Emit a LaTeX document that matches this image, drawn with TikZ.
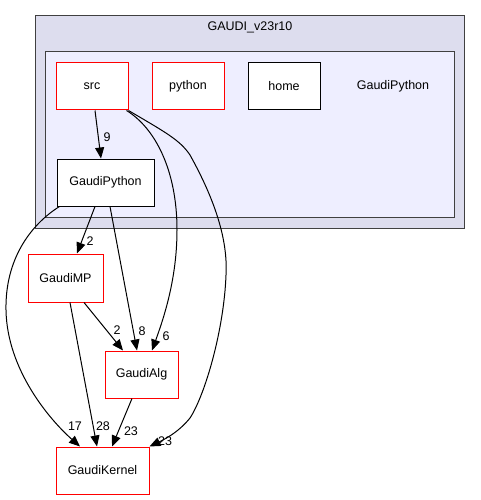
\documentclass[tikz,border=0pt]{standalone}
\usepackage{fontspec}
\setmainfont{Liberation Sans}
\usetikzlibrary{arrows.meta}
\definecolor{outerfill}{HTML}{DDDDEE}
\definecolor{innerfill}{HTML}{EEEEFF}
\definecolor{clborder}{HTML}{404040}
\tikzset{
  box/.style={draw=black, fill=white, line width=1pt, minimum height=47pt, inner sep=0pt, font=\fontsize{12.5}{14}\selectfont},
  redbox/.style={box, draw=red},
  cluster/.style={draw=clborder, line width=1pt},
  lbl/.style={font=\fontsize{12.5}{14}\selectfont, inner sep=0pt},
  edge/.style={draw=black, line width=1pt, -{Triangle[length=11pt,width=9pt]}},
}
\begin{document}
\begin{tikzpicture}[x=1pt,y=-1pt]
\useasboundingbox (0,0) rectangle (480,500);
% clusters
\draw[cluster, fill=outerfill] (35,16) rectangle (464,228);
\node[lbl] (outerlbl) at (250,27) {GAUDI\_v23r10};
\draw[cluster, fill=innerfill] (45,52) rectangle (454,217);
\node[lbl] (innerlbl) at (393,86) {GaudiPython};
% nodes
\node[redbox, minimum width=72pt] (src) at (92,86.5) {src};
\node[redbox, minimum width=72pt] (python) at (188,86.5) {python};
\node[box, minimum width=72pt] (home) at (284,86.5) {home};
\node[box, minimum width=97pt] (gp) at (105.5,182.5) {GaudiPython};
\node[redbox, minimum width=75pt, minimum height=48pt] (mp) at (65.5,278) {GaudiMP};
\node[redbox, minimum width=73pt] (alg) at (141.5,374.5) {GaudiAlg};
\node[redbox, minimum width=93pt] (kernel) at (102.5,470.5) {GaudiKernel};
% edges
\draw[edge] ([xshift=3pt]src.south) -- ([xshift=-4.5pt]gp.north);
\node[lbl] (l9) at (107,137) {9};
\draw[edge] ([xshift=-2pt]src.south east) .. controls (155,128) and (177,170) .. (177,230)
   .. controls (177,280) and (163,320) .. ([xshift=10.5pt]alg.north);
\node[lbl] (l6) at (166,336) {6};
\draw[edge] (src.south east) .. controls (165,132) and (180,140) .. (190,155)
   .. controls (215,200) and (228,240) .. (226,275)
   .. controls (224,330) and (205,395) .. (190,418)
   .. controls (178,433) and (163,440) .. (kernel.north east);
\node[lbl] (l23b) at (165,441) {23};
\draw[edge] ([xshift=-10.5pt]gp.south) -- ([xshift=11.5pt]mp.north);
\node[lbl] (l2a) at (90,241) {2};
\draw[edge] ([xshift=4.5pt]gp.south) -- ([xshift=-4.5pt]alg.north);
\node[lbl] (l8) at (142,331) {8};
\draw[edge] ([xshift=3pt]gp.south west) .. controls (30,225) and (5,260) .. (6,310)
   .. controls (7,370) and (50,420) .. ([xshift=-22.5pt]kernel.north);
\node[lbl] (l17) at (75,426) {17};
\draw[edge] ([xshift=18.5pt]mp.south) -- ([xshift=-18.5pt]alg.north);
\node[lbl] (l2b) at (117,330) {2};
\draw[edge] ([xshift=4.5pt]mp.south) -- ([xshift=-5.5pt]kernel.north);
\node[lbl] (l28) at (103,426) {28};
\draw[edge] ([xshift=-9.5pt]alg.south) -- ([xshift=9.5pt]kernel.north);
\node[lbl] (l23a) at (131,431) {23};
\end{tikzpicture}
\end{document}
